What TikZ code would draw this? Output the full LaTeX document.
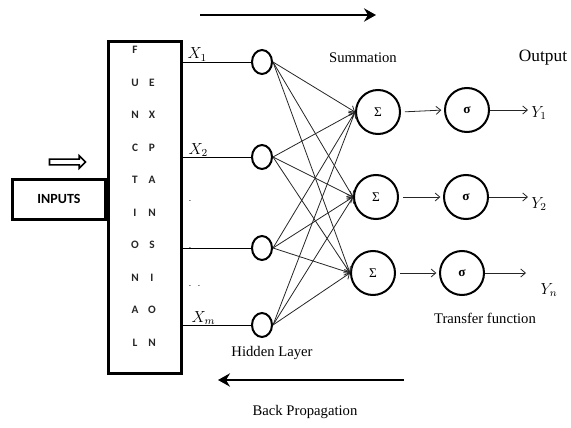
\documentclass[tikz,border=0pt]{standalone}
\usepackage{fontspec}
\setmainfont{Liberation Serif}
\newfontfamily\calfont{Carlito}
\usetikzlibrary{arrows.meta, positioning, calc, shapes.geometric, shapes.arrows}
\tikzset{
    netfig/.style={x=0.75pt, y=-0.75pt, >=to, font=\fontsize{11}{13}\selectfont},
    hidden/.style={draw, ellipse, line width=1.5pt, minimum width=15pt, minimum height=18pt, inner sep=0pt},
    unit/.style={draw, circle, line width=1.5pt, minimum size=33pt, inner sep=0pt, font=\fontsize{10}{11}\selectfont},
    letter/.style={font=\calfont\bfseries\fontsize{8.5}{9}\selectfont, text=black!85, inner sep=0pt},
    conn/.style={-{Straight Barb[length=3.5pt, width=6pt]}, semithick, black!85},
    bigarrow/.style={-{Stealth[length=9pt, width=10pt, inset=3pt]}, line width=2pt},
    xlabel/.style={anchor=south west, inner sep=1pt, font=\fontsize{12}{13}\selectfont},
}

\begin{document}
\begin{tikzpicture}[netfig]
    \useasboundingbox (0,0) rectangle (571,428);

    % functional expansion block and inputs
    \node[draw, line width=2pt, minimum width=55pt, minimum height=249pt, anchor=north west] (fbox) at (107,40) {};
    \node[draw, line width=2pt, minimum width=70pt, minimum height=30pt, anchor=north east,
          font=\calfont\bfseries\fontsize{10.5}{12}\selectfont] (inputs) at (107,178) {INPUTS};
    \node[single arrow, draw, line width=1.2pt, minimum height=27pt, minimum width=9pt,
          inner sep=1.6pt, single arrow head extend=2.5pt] (inarrow) at (66,162) {};
    \foreach \a/\b [count=\k from 0] in {F/, U/E, N/X, C/P, T/A, I/N, O/S, N/I, A/O, L/N} {
        \node[letter] (l\k) at (135,50+32.5*\k) {\a};
        \node[letter] (r\k) at (152,50+32.5*\k) {\b};
    }

    % hidden layer
    \node[hidden] (h1) at (262,62)  {};
    \node[hidden] (h2) at (262,157) {};
    \node[hidden] (h3) at (262,248) {};
    \node[hidden] (h4) at (262,325) {};
    \foreach \i in {1,...,4}
        \draw[semithick] (fbox.east |- h\i) -- (h\i);
    \node[xlabel] (x1) at (186,63)  {$X_1$};
    \node[xlabel] (x2) at (187,158) {$X_2$};
    \node[xlabel] (xm) at (190,326) {$X_m$};
    \node[font=\tiny] (d1) at (190,202) {-};
    \node[font=\tiny] (d2) at (190,249) {-};
    \node[font=\tiny] (d3) at (190,287) {-};
    \node[font=\tiny] (d4) at (199,287) {-};

    % summation and transfer units
    \node[unit] (s1) at (378,112) {Σ};
    \node[unit] (s2) at (376,197) {Σ};
    \node[unit] (s3) at (373,273) {Σ};
    \node[unit] (t1) at (467,110) {\textbf{σ}};
    \node[unit] (t2) at (466,197) {\textbf{σ}};
    \node[unit] (t3) at (462,273) {\textbf{σ}};
    \foreach \i in {1,...,4}
        \foreach \j in {1,2,3}
            \draw[conn] (h\i.east) -- (s\j.west);
    \foreach \j in {1,2,3}
        \draw[conn, shorten <=3pt, shorten >=2pt] (s\j.east) -- (t\j.west);

    % outputs
    \coordinate (o1) at (528,110);
    \coordinate (o2) at (528,197);
    \coordinate (o3) at (526,273);
    \foreach \j in {1,2,3}
        \draw[conn] (t\j) -- (o\j);
    \node[font=\fontsize{12}{13}\selectfont] (y1) at (539,113) {$Y_1$};
    \node[font=\fontsize{12}{13}\selectfont] (y2) at (539,204) {$Y_2$};
    \node[font=\fontsize{12}{13}\selectfont] (yn) at (549,290) {$Y_n$};

    % captions
    \node (sumlbl) at (363,58) {Summation};
    \node[font=\fontsize{13}{15}\selectfont] (outlbl) at (543,58) {Output};
    \node (tflbl) at (485,318) {Transfer function};
    \node (hidlbl) at (272,353) {Hidden Layer};
    \node (bplbl) at (305,412) {Back Propagation};

    % forward and backward passes
    \coordinate (fwdL) at (200,15);
    \coordinate (fwdR) at (376,15);
    \coordinate (backR) at (404,380);
    \coordinate (backL) at (218,380);
    \draw[bigarrow] (fwdL) -- (fwdR);
    \draw[bigarrow] (backR) -- (backL);
\end{tikzpicture}
\end{document}
